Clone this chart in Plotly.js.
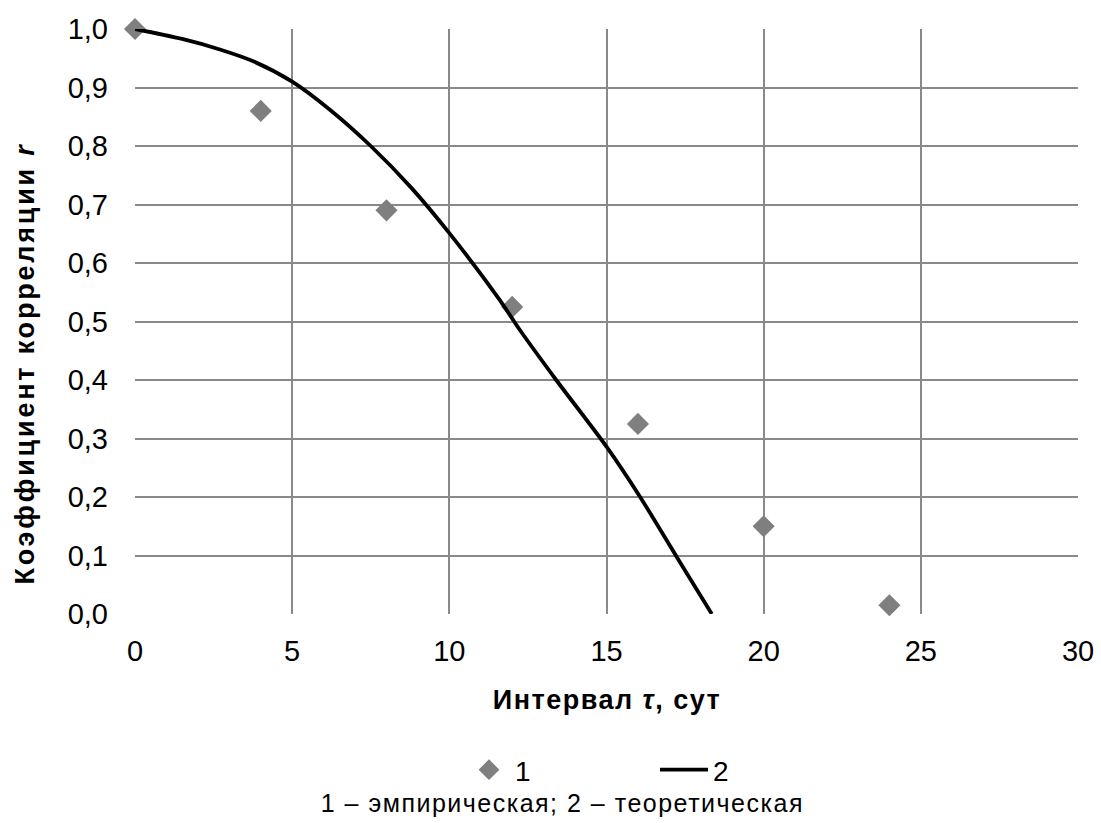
<!DOCTYPE html>
<html>
<head>
<meta charset="utf-8">
<script src="https://cdn.plot.ly/plotly-3.0.1.min.js"></script>
<style>html,body{margin:0;padding:0;background:#fff;}#chart{width:1101px;height:823px;}</style>
</head>
<body>
<div id="chart"></div>
<script>
// Empirical correlation coefficients (series 1)
const empTau = [0, 4, 8, 12, 16, 20, 24];
const empR = [1.0, 0.86, 0.69, 0.525, 0.325, 0.15, 0.015];
// Theoretical curve (series 2)
const theoTau = [0, 1.5, 2.7, 3.8, 5, 6.2, 7.5, 8.8, 10, 11.6, 12.25, 13.4, 15, 16.07, 17.23, 18.35];
const theoR = [1.0, 0.983, 0.965, 0.944, 0.910, 0.862, 0.800, 0.728, 0.651, 0.537, 0.485, 0.400, 0.286, 0.200, 0.098, 0.0];
const xTicks = [0, 5, 10, 15, 20, 25, 30];
const yTicks = [0, 0.1, 0.2, 0.3, 0.4, 0.5, 0.6, 0.7, 0.8, 0.9, 1.0];
const seriesNames = ['1', '2'];
const xTitle = '<b>Интервал <i>τ</i>, сут</b>';
const yTitle = '<b>Коэффициент корреляции <i>r</i></b>';
const caption = '1 – эмпирическая; 2 – теоретическая';

const font = 'Liberation Sans, Arial, sans-serif';
const W = 1101, H = 823;
const M = {l: 135, r: 23, t: 29, b: 209};
const pw = W - M.l - M.r, ph = H - M.t - M.b;
const px2x = p => (p - M.l) / pw;
const py2y = p => (H - M.b - p) / ph;

const traces = [
  {x: empTau, y: empR, name: seriesNames[0], mode: 'markers', type: 'scatter', legend: 'legend',
   marker: {symbol: 'diamond', size: 17, color: '#7f7f7f'}, cliponaxis: false},
  {x: theoTau, y: theoR, name: seriesNames[1], mode: 'lines', type: 'scatter', legend: 'legend2',
   line: {color: '#000000', width: 3.8, shape: 'spline', smoothing: 0.8}, cliponaxis: false}
];
const layout = {
  width: W, height: H,
  margin: M,
  paper_bgcolor: '#ffffff', plot_bgcolor: '#ffffff',
  separators: ', ',
  font: {family: font, size: 20, color: '#000'},
  showlegend: true,
  xaxis: {
    range: [0, 30], tickvals: xTicks, showgrid: true, gridcolor: '#898989', gridwidth: 2,
    zeroline: false, showline: false, ticks: '', ticklabelstandoff: 17,
    tickfont: {family: font, size: 29, color: '#000'}
  },
  yaxis: {
    range: [0, 1.0], tickvals: yTicks, tickformat: '.1f', showgrid: true, gridcolor: '#898989', gridwidth: 2,
    zeroline: false, showline: false, ticks: '', ticklabelstandoff: 26,
    tickfont: {family: font, size: 29, color: '#000'}
  },
  legend: {orientation: 'h', x: px2x(463), xanchor: 'left', y: py2y(770), yanchor: 'middle', itemwidth: 42,
    font: {family: font, size: 28, color: '#000'}, bgcolor: 'rgba(0,0,0,0)'},
  legend2: {orientation: 'h', x: px2x(655), xanchor: 'left', y: py2y(770), yanchor: 'middle', itemwidth: 48,
    font: {family: font, size: 28, color: '#000'}, bgcolor: 'rgba(0,0,0,0)'},
  annotations: [
    {text: xTitle, xref: 'paper', yref: 'paper', x: px2x(607), y: py2y(700), xanchor: 'center', yanchor: 'middle',
     showarrow: false, font: {family: font, size: 27, color: '#000'}},
    {text: yTitle, xref: 'paper', yref: 'paper', x: px2x(25), y: py2y(363), xanchor: 'center', yanchor: 'middle',
     textangle: -90, showarrow: false, font: {family: font, size: 27, color: '#000'}},
    {text: caption, xref: 'paper', yref: 'paper', x: px2x(562), y: py2y(803), xanchor: 'center', yanchor: 'middle',
     showarrow: false, font: {family: font, size: 25, color: '#000'}}
  ]
};
const spacing = ['1.5px', '2.8px', '1.5px'];
Plotly.newPlot('chart', traces, layout, {displayModeBar: false, staticPlot: true}).then(gd => {
  gd.querySelectorAll('.annotation-text').forEach((t, i) => {
    if (spacing[i]) t.style.letterSpacing = spacing[i];
  });
});
</script>
</body>
</html>
